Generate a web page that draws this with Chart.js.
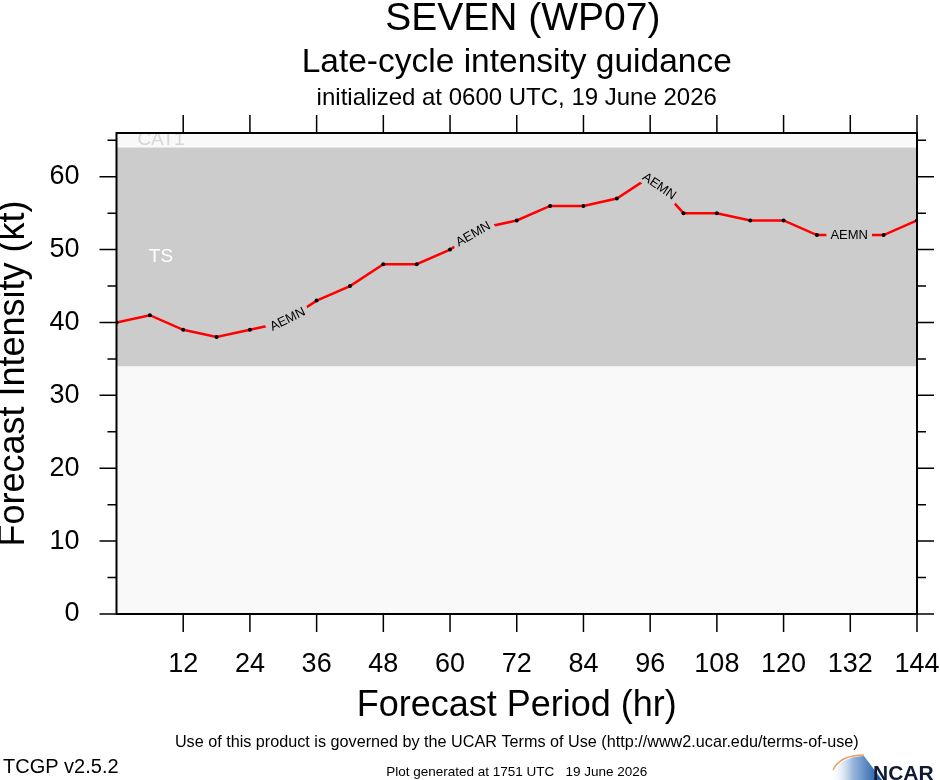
<!DOCTYPE html>
<html>
<head>
<meta charset="utf-8">
<title>SEVEN (WP07) Late-cycle intensity guidance</title>
<script src="https://cdn.jsdelivr.net/npm/chart.js@4.4.1/dist/chart.umd.min.js"></script>
<style>
  html, body { margin: 0; padding: 0; background: #fff; }
  #wrap { width: 940px; height: 780px; }
</style>
</head>
<body>
<div id="wrap"><canvas id="intensityChart" width="940" height="780"></canvas></div>
<script>
// hours of the forecast and the AEMN intensity (kt)
const forecastHours = [0, 6, 12, 18, 24, 30, 36, 42, 48, 54, 60, 66, 72, 78, 84, 90, 96, 102, 108, 114, 120, 126, 132, 138, 144];
const aemnIntensity = [40, 41, 39, 38, 39, 40, 43, 45, 48, 48, 50, 53, 54, 56, 56, 57, 60, 55, 55, 54, 54, 52, 52, 52, 54];

const xTickValues = [12, 24, 36, 48, 60, 72, 84, 96, 108, 120, 132, 144];
const yTickValues = [0, 10, 20, 30, 40, 50, 60];
const yMinorTicks = [5, 15, 25, 35, 45, 55, 65];

// storm category band: TS from 34 to 64 kt, CAT1 above
const bandBounds = [34, 64];
const bandNames = ['TS', 'CAT1'];

// where the model name sits along the line (hr)
const labelHours = [30.8, 64.2, 97.6, 131.8];
const modelName = 'AEMN';

const FONT = '"Liberation Sans", Arial, Helvetica, sans-serif';
const TS_GREY = '#cccccc';
const LIGHT = '#f9f9f9';

const guidancePlugin = {
  id: 'guidance',
  beforeDatasetsDraw(chart) {
    const { ctx, chartArea: a, scales: { x, y } } = chart;
    ctx.save();
    ctx.beginPath();
    ctx.rect(a.left, a.top, a.width, a.height);
    ctx.clip();
    ctx.fillStyle = LIGHT;
    ctx.fillRect(a.left, a.top, a.width, a.height);

    ctx.font = '19px ' + FONT;
    ctx.textAlign = 'center';
    ctx.textBaseline = 'middle';
    ctx.fillStyle = '#d6d6d6';
    ctx.fillText(bandNames[1], x.getPixelForValue(8), y.getPixelForValue(65.1));

    const yLo = y.getPixelForValue(bandBounds[0]);
    const yHi = y.getPixelForValue(bandBounds[1]);
    ctx.fillStyle = TS_GREY;
    ctx.fillRect(a.left, yHi, a.width, yLo - yHi);

    ctx.fillStyle = '#ffffff';
    ctx.fillText(bandNames[0], x.getPixelForValue(8), y.getPixelForValue(49));
    ctx.restore();
  },
  afterDatasetsDraw(chart) {
    const { ctx, chartArea: a, scales: { x, y } } = chart;
    const pts = chart.getDatasetMeta(0).data;
    const last = forecastHours.length - 1;
    // point on the drawn line at hour h
    const at = h => {
      let i = 0;
      while (i < last - 1 && h > forecastHours[i + 1]) i++;
      const p = pts[i], q = pts[i + 1];
      const t = (h - forecastHours[i]) / (forecastHours[i + 1] - forecastHours[i]);
      return { x: p.x + (q.x - p.x) * t, y: p.y + (q.y - p.y) * t };
    };

    ctx.save();
    ctx.font = '13px ' + FONT;
    ctx.textAlign = 'center';
    ctx.textBaseline = 'middle';
    const w = ctx.measureText(modelName).width;
    labelHours.forEach(h => {
      const c = at(h);
      const l = at(Math.max(h - 3, forecastHours[0]));
      const r = at(Math.min(h + 3, forecastHours[last]));
      const ang = Math.atan2(r.y - l.y, r.x - l.x);
      ctx.save();
      ctx.translate(c.x, c.y);
      ctx.rotate(ang);
      ctx.fillStyle = TS_GREY;
      ctx.fillRect(-w / 2 - 4, -7, w + 8, 14);
      ctx.fillStyle = '#000';
      ctx.fillText(modelName, 0, 0);
      ctx.restore();
    });

    // frame and outward ticks on all four sides
    ctx.strokeStyle = '#000';
    ctx.lineWidth = 2;
    ctx.strokeRect(a.left, a.top, a.width, a.height);
    ctx.lineWidth = 1.5;
    ctx.beginPath();
    yTickValues.forEach(v => {
      const py = y.getPixelForValue(v);
      ctx.moveTo(a.left - 17, py); ctx.lineTo(a.left, py);
      ctx.moveTo(a.right, py); ctx.lineTo(a.right + 17, py);
    });
    yMinorTicks.forEach(v => {
      const py = y.getPixelForValue(v);
      ctx.moveTo(a.left - 9, py); ctx.lineTo(a.left, py);
      ctx.moveTo(a.right, py); ctx.lineTo(a.right + 9, py);
    });
    xTickValues.forEach(v => {
      const px = x.getPixelForValue(v);
      ctx.moveTo(px, a.bottom); ctx.lineTo(px, a.bottom + 18);
      ctx.moveTo(px, a.top); ctx.lineTo(px, a.top - 18);
    });
    ctx.stroke();
    ctx.restore();
  },
  afterDraw(chart) {
    const { ctx, chartArea: a } = chart;
    const cx = (a.left + a.right) / 2;
    ctx.save();
    ctx.fillStyle = '#000';
    ctx.textAlign = 'center';
    ctx.textBaseline = 'alphabetic';
    ctx.font = '39px ' + FONT;
    ctx.fillText('SEVEN (WP07)', cx + 6, 30);
    ctx.font = '33.5px ' + FONT;
    ctx.fillText('Late-cycle intensity guidance', cx, 72);
    ctx.font = '24px ' + FONT;
    ctx.fillText('initialized at 0600 UTC, 19 June 2026', cx, 105);

    ctx.font = '16.2px ' + FONT;
    ctx.fillText('Use of this product is governed by the UCAR Terms of Use (http://www2.ucar.edu/terms-of-use)', cx, 747);
    ctx.font = '13.5px ' + FONT;
    ctx.fillText('Plot generated at 1751 UTC   19 June 2026', cx, 776);
    ctx.textAlign = 'left';
    ctx.font = '20px ' + FONT;
    ctx.fillText('TCGP v2.5.2', 3, 773);

    // NCAR logo
    const g = ctx.createLinearGradient(830, 0, 880, 0);
    g.addColorStop(0, 'rgba(255,255,255,0)');
    g.addColorStop(0.45, '#9ab8dc');
    g.addColorStop(1, '#1d5aa6');
    ctx.fillStyle = g;
    ctx.beginPath();
    ctx.moveTo(830, 780);
    ctx.quadraticCurveTo(838, 756, 864, 756);
    ctx.lineTo(882, 780);
    ctx.closePath();
    ctx.fill();
    ctx.strokeStyle = '#e8a060';
    ctx.lineWidth = 1.5;
    ctx.beginPath();
    ctx.moveTo(833, 770);
    ctx.quadraticCurveTo(840, 755, 864, 755);
    ctx.stroke();
    ctx.fillStyle = '#111a33';
    ctx.font = 'bold 21px ' + FONT;
    ctx.fillText('NCAR', 873, 780);
    ctx.restore();
  }
};

new Chart(document.getElementById('intensityChart'), {
  type: 'line',
  data: {
    datasets: [{
      label: modelName,
      data: forecastHours.map((h, i) => ({ x: h, y: aemnIntensity[i] })),
      borderColor: '#ff0000',
      borderWidth: 2.5,
      pointRadius: 2,
      pointBorderWidth: 0,
      pointBackgroundColor: '#000',
      tension: 0
    }]
  },
  options: {
    responsive: false,
    animation: false,
    devicePixelRatio: 1,
    layout: { padding: { top: 133, right: 23, bottom: 52, left: 0 } },
    plugins: { legend: { display: false }, tooltip: { enabled: false } },
    scales: {
      x: {
        type: 'linear',
        min: 0,
        max: 144,
        afterFit: s => { s.height = 114; s.paddingLeft = 0; s.paddingRight = 0; },
        grid: { display: false, drawTicks: false },
        border: { display: false },
        ticks: {
          stepSize: 12, autoSkip: false, maxRotation: 0, padding: 34, color: '#000',
          font: { family: FONT, size: 27 },
          callback: v => (v === 0 ? '' : v)
        },
        title: {
          display: true, text: 'Forecast Period (hr)', color: '#000', padding: 0,
          font: { family: FONT, size: 36, lineHeight: 1.2 }
        }
      },
      y: {
        min: 0,
        max: 66,
        afterFit: s => { s.width = 116.5; s.paddingTop = 0; s.paddingBottom = 0; },
        grid: { display: false, drawTicks: false },
        border: { display: false },
        ticks: {
          stepSize: 10, includeBounds: false, padding: 37, color: '#000',
          font: { family: FONT, size: 27 },
          callback: v => (v % 10 === 0 ? v : '')
        },
        title: {
          display: true, text: 'Forecast Intensity (kt)', color: '#000', padding: 0,
          font: { family: FONT, size: 36, lineHeight: 0.8 }
        }
      }
    }
  },
  plugins: [guidancePlugin]
});
</script>
</body>
</html>
